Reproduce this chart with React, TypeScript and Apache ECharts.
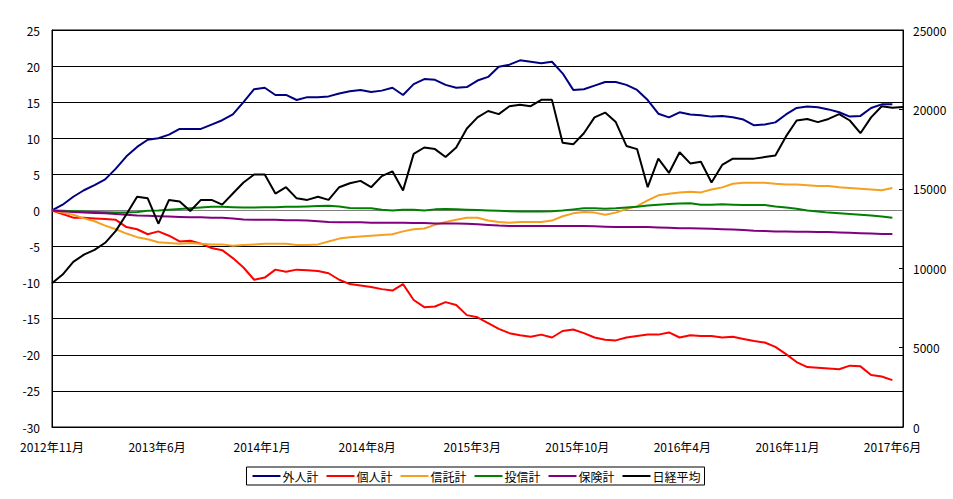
import React, { useEffect, useRef } from 'react';
import * as echarts from 'echarts';

// Tick labels sit every 30 weeks on a weekly time line of 243 weeks.
const tickLabels = ['2012年11月', '2013年6月', '2014年1月', '2014年8月', '2015年3月', '2015年10月', '2016年4月', '2016年11月', '2017年6月'];
const labelWeekStep = 30;
const totalWeeks = 243;
// Samples (about every 3 weeks) of the weekly series.
const categories = Array.from({ length: 81 }, (_, i) => String(i));
const legendNames = ['外人計', '個人計', '信託計', '投信計', '保険計', '日経平均'];

const foreign = [0, 0.8, 1.9, 2.8, 3.5, 4.3, 5.8, 7.5, 8.8, 9.8, 10.0, 10.5, 11.3, 11.3, 11.3, 11.9, 12.5, 13.3, 15.0, 16.8, 17.0, 16.0, 16.0, 15.3, 15.7, 15.7, 15.8, 16.2, 16.5, 16.7, 16.4, 16.6, 17.0, 16.0, 17.5, 18.2, 18.1, 17.4, 17.0, 17.1, 18.0, 18.5, 19.9, 20.2, 20.8, 20.6, 20.4, 20.6, 19.0, 16.7, 16.8, 17.3, 17.8, 17.8, 17.4, 16.7, 15.3, 13.4, 12.9, 13.6, 13.3, 13.2, 13.0, 13.1, 12.9, 12.6, 11.8, 11.9, 12.2, 13.3, 14.2, 14.4, 14.3, 14.0, 13.6, 13.0, 13.1, 14.2, 14.7, 14.7];
const individual = [0, -0.5, -1.0, -1.0, -1.1, -1.2, -1.3, -2.3, -2.6, -3.3, -2.9, -3.5, -4.3, -4.2, -4.6, -5.2, -5.5, -6.6, -7.9, -9.6, -9.3, -8.2, -8.5, -8.2, -8.3, -8.4, -8.7, -9.6, -10.2, -10.4, -10.6, -10.9, -11.1, -10.2, -12.4, -13.4, -13.3, -12.7, -13.1, -14.5, -14.8, -15.6, -16.4, -17.0, -17.3, -17.5, -17.2, -17.6, -16.7, -16.5, -17.0, -17.6, -17.9, -18.0, -17.6, -17.4, -17.2, -17.2, -16.9, -17.6, -17.3, -17.4, -17.4, -17.6, -17.5, -17.8, -18.1, -18.3, -18.9, -19.9, -21.0, -21.7, -21.8, -21.9, -22.0, -21.5, -21.6, -22.8, -23.0, -23.5];
const trust = [0, -0.3, -0.6, -1.1, -1.5, -2.1, -2.6, -3.2, -3.7, -4.0, -4.4, -4.5, -4.6, -4.5, -4.6, -4.7, -4.7, -4.9, -4.8, -4.7, -4.6, -4.6, -4.6, -4.8, -4.8, -4.7, -4.3, -3.9, -3.7, -3.6, -3.5, -3.4, -3.3, -2.9, -2.6, -2.5, -2.0, -1.6, -1.3, -1.0, -1.0, -1.4, -1.6, -1.7, -1.6, -1.6, -1.6, -1.4, -0.8, -0.4, -0.2, -0.3, -0.6, -0.3, 0.2, 0.6, 1.4, 2.1, 2.3, 2.5, 2.6, 2.5, 2.9, 3.2, 3.7, 3.85, 3.85, 3.85, 3.7, 3.6, 3.6, 3.5, 3.4, 3.4, 3.2, 3.1, 3.0, 2.9, 2.8, 3.1];
const investmentTrust = [0, -0.05, -0.1, -0.15, -0.2, -0.25, -0.3, -0.3, -0.2, -0.05, 0.0, 0.1, 0.2, 0.3, 0.4, 0.5, 0.5, 0.45, 0.4, 0.4, 0.45, 0.45, 0.5, 0.5, 0.55, 0.6, 0.65, 0.55, 0.35, 0.3, 0.3, 0.1, 0.0, 0.1, 0.1, 0.0, 0.15, 0.2, 0.15, 0.1, 0.05, 0.0, -0.05, -0.1, -0.15, -0.15, -0.15, -0.1, 0.0, 0.15, 0.3, 0.3, 0.25, 0.3, 0.4, 0.5, 0.7, 0.8, 0.9, 0.95, 1.0, 0.8, 0.8, 0.85, 0.8, 0.75, 0.75, 0.75, 0.55, 0.4, 0.25, 0.0, -0.15, -0.3, -0.4, -0.5, -0.6, -0.7, -0.85, -1.0];
const insurance = [0, -0.1, -0.2, -0.3, -0.35, -0.4, -0.5, -0.6, -0.7, -0.75, -0.8, -0.85, -0.9, -0.95, -0.95, -1.0, -1.0, -1.1, -1.25, -1.3, -1.3, -1.3, -1.35, -1.35, -1.4, -1.5, -1.6, -1.65, -1.65, -1.65, -1.7, -1.7, -1.7, -1.7, -1.75, -1.75, -1.8, -1.8, -1.8, -1.85, -1.9, -2.0, -2.1, -2.15, -2.15, -2.15, -2.15, -2.15, -2.15, -2.15, -2.15, -2.2, -2.25, -2.3, -2.3, -2.3, -2.3, -2.35, -2.4, -2.45, -2.45, -2.5, -2.55, -2.6, -2.65, -2.7, -2.8, -2.85, -2.9, -2.9, -2.95, -2.95, -3.0, -3.0, -3.05, -3.1, -3.15, -3.2, -3.25, -3.25];
const nikkei = [9050, 9600, 10400, 10850, 11150, 11600, 12350, 13400, 14500, 14400, 12800, 14300, 14200, 13600, 14300, 14300, 14000, 14700, 15400, 15900, 15900, 14700, 15100, 14400, 14300, 14500, 14300, 15100, 15350, 15500, 15100, 15800, 16100, 14900, 17200, 17600, 17500, 17000, 17600, 18800, 19500, 19900, 19700, 20200, 20300, 20200, 20600, 20600, 17900, 17800, 18500, 19500, 19800, 19200, 17700, 17500, 15100, 16900, 16000, 17300, 16600, 16700, 15400, 16500, 16900, 16900, 16900, 17000, 17100, 18300, 19300, 19400, 19200, 19400, 19700, 19300, 18500, 19500, 20200, 20100, 20150];

const colors = ['#000080', '#ff0000', '#f5a01e', '#008000', '#800080', '#000000'];
const FONT = '"Noto Sans CJK JP", "Noto Sans", sans-serif';

export default function App() {
  const ref = useRef<HTMLDivElement>(null);
  useEffect(() => {
    const chart = echarts.init(ref.current as HTMLDivElement, null, { renderer: 'svg' });
    const splitColors = Array.from({ length: 12 }, (_, i) => (i === 6 ? '#808080' : '#000000'));
    const seriesData = [foreign, individual, trust, investmentTrust, insurance, nikkei];
    chart.setOption({
      animation: false,
      textStyle: { fontFamily: FONT },
      color: colors,
      grid: { left: 52, right: 50, top: 30, bottom: 72, show: true, borderColor: '#000', borderWidth: 1 },
      legend: {
        data: legendNames,
        left: 'center',
        top: 467,
        icon: 'rect',
        itemWidth: 28,
        itemHeight: 2,
        itemGap: 8,
        padding: [3, 4, 3, 6],
        borderColor: '#000',
        borderWidth: 1,
        textStyle: { fontFamily: FONT, fontSize: 12, color: '#000', padding: [0, 0, 0, -3] },
      },
      xAxis: [
        {
          type: 'category',
          data: categories,
          boundaryGap: false,
          show: false,
        },
        {
          type: 'value',
          min: 0,
          max: totalWeeks,
          interval: labelWeekStep,
          position: 'bottom',
          axisLine: { show: true, lineStyle: { color: '#000' } },
          axisTick: { show: false },
          splitLine: { show: false },
          axisLabel: {
            margin: 13,
            color: '#000',
            fontSize: 12,
            fontFamily: FONT,
            showMinLabel: true,
            showMaxLabel: true,
            formatter: (v: number) => (v % labelWeekStep === 0 ? tickLabels[v / labelWeekStep] ?? '' : ''),
          },
        },
      ],
      yAxis: [
        {
          type: 'value',
          min: -30,
          max: 25,
          interval: 5,
          axisLine: { show: true, lineStyle: { color: '#000' } },
          axisTick: { show: false },
          axisLabel: { color: '#000', fontSize: 12, margin: 12, fontFamily: FONT },
          splitLine: { show: true, lineStyle: { color: splitColors, width: 1 } },
        },
        {
          type: 'value',
          min: 0,
          max: 25000,
          interval: 5000,
          position: 'right',
          axisLine: { show: true, lineStyle: { color: '#000' } },
          axisTick: { show: true, inside: true, length: 4, lineStyle: { color: '#000' } },
          axisLabel: { color: '#000', fontSize: 12, margin: 10, fontFamily: FONT, formatter: (v: number) => String(v) },
          splitLine: { show: false },
        },
      ],
      series: legendNames.map((name, i) => ({
        name,
        type: 'line',
        xAxisIndex: 0,
        yAxisIndex: i === 5 ? 1 : 0,
        data: seriesData[i],
        symbol: 'none',
        lineStyle: { width: 2, color: colors[i] },
        itemStyle: { color: colors[i] },
      })),
    });
    return () => chart.dispose();
  }, []);
  return <div ref={ref} style={{ position: 'absolute', left: 0, top: 0, width: 953, height: 499 }} />;
}
